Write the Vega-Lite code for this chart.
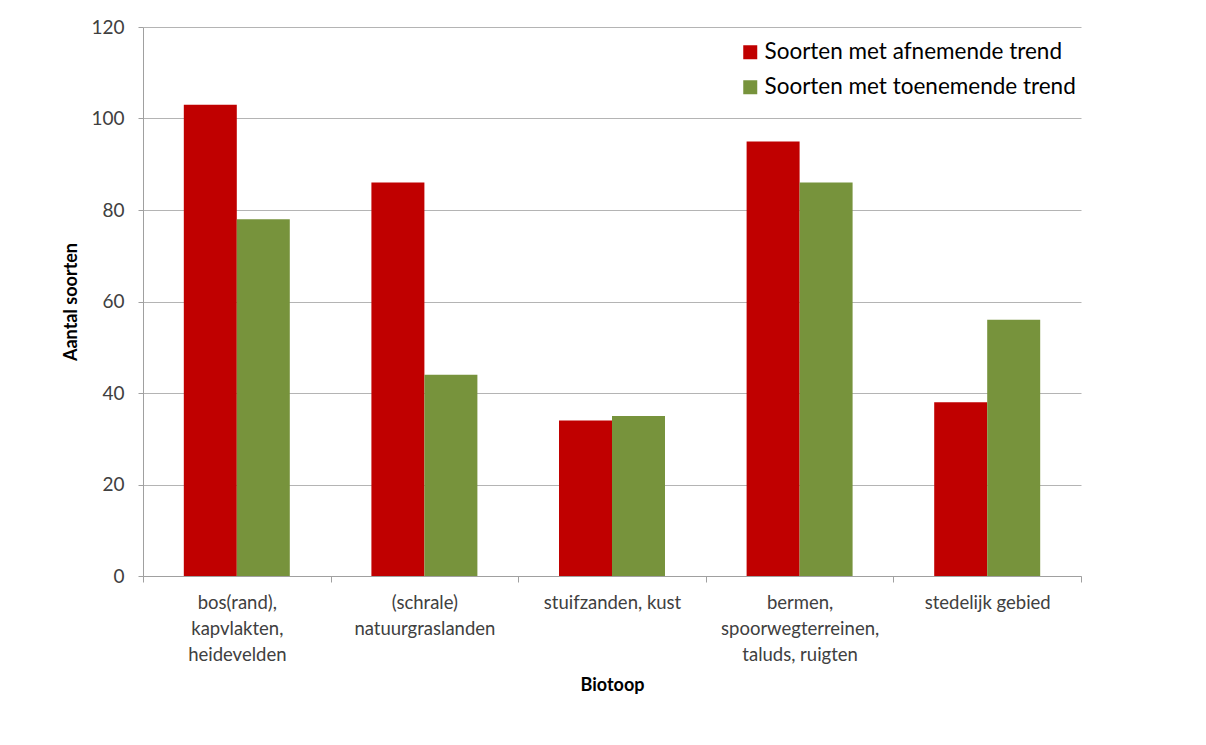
{
  "$schema": "https://vega.github.io/schema/vega-lite/v6.json",
  "autosize": "none",
  "width": 938,
  "height": 549,
  "padding": {"left": 143, "top": 27, "right": 125, "bottom": 169},
  "background": "white",
  "config": {
    "view": {"stroke": null},
    "font": "Lato",
    "axis": {"labelFont": "Lato", "titleFont": "Lato"},
    "legend": {"labelFont": "Lato"}
  },
  "data": {
    "values": [
      {"biotoop": "bos(rand),|kapvlakten,|heidevelden", "trend": "Soorten met afnemende trend", "aantal": 103},
      {"biotoop": "bos(rand),|kapvlakten,|heidevelden", "trend": "Soorten met toenemende trend", "aantal": 78},
      {"biotoop": "(schrale)|natuurgraslanden", "trend": "Soorten met afnemende trend", "aantal": 86},
      {"biotoop": "(schrale)|natuurgraslanden", "trend": "Soorten met toenemende trend", "aantal": 44},
      {"biotoop": "stuifzanden, kust", "trend": "Soorten met afnemende trend", "aantal": 34},
      {"biotoop": "stuifzanden, kust", "trend": "Soorten met toenemende trend", "aantal": 35},
      {"biotoop": "bermen,|spoorwegterreinen,|taluds, ruigten", "trend": "Soorten met afnemende trend", "aantal": 95},
      {"biotoop": "bermen,|spoorwegterreinen,|taluds, ruigten", "trend": "Soorten met toenemende trend", "aantal": 86},
      {"biotoop": "stedelijk gebied", "trend": "Soorten met afnemende trend", "aantal": 38},
      {"biotoop": "stedelijk gebied", "trend": "Soorten met toenemende trend", "aantal": 56}
    ]
  },
  "mark": {"type": "bar"},
  "encoding": {
    "x": {
      "field": "biotoop",
      "type": "nominal",
      "sort": null,
      "scale": {"paddingInner": 0, "paddingOuter": 0},
      "axis": {
        "title": "Biotoop",
        "titleFontSize": 18,
        "titleFontWeight": "bold",
        "titleColor": "#000000",
        "titlePadding": 13,
        "labelAngle": 0,
        "labelExpr": "split(datum.label, '|')",
        "labelFontSize": 18.5,
        "labelColor": "#404040",
        "labelLineHeight": 26,
        "labelPadding": 11,
        "labelBaseline": "top",
        "labelLimit": 0,
        "tickBand": "extent",
        "tickSize": 6,
        "tickColor": "#a0a0a0",
        "domainColor": "#a0a0a0",
        "grid": false
      }
    },
    "xOffset": {
      "field": "trend",
      "type": "nominal",
      "scale": {"paddingInner": 0, "paddingOuter": 0.77}
    },
    "y": {
      "field": "aantal",
      "type": "quantitative",
      "scale": {"domain": [0, 120], "nice": false},
      "axis": {
        "title": "Aantal soorten",
        "titleFontSize": 18,
        "titleFontWeight": "bold",
        "titleColor": "#000000",
        "titlePadding": 10,
        "values": [0, 20, 40, 60, 80, 100, 120],
        "labelFontSize": 19,
        "labelColor": "#404040",
        "labelPadding": 14,
        "tickSize": 5,
        "tickColor": "#a0a0a0",
        "domainColor": "#a0a0a0",
        "gridColor": "#b4b4b4",
        "grid": true
      }
    },
    "color": {
      "field": "trend",
      "type": "nominal",
      "scale": {
        "domain": ["Soorten met afnemende trend", "Soorten met toenemende trend"],
        "range": ["#C00000", "#77933C"]
      },
      "legend": {
        "title": null,
        "orient": "none",
        "legendX": 596,
        "legendY": 14,
        "symbolType": "square",
        "symbolSize": 196,
        "symbolStrokeWidth": 0,
        "labelFontSize": 22.5,
        "labelColor": "#000000",
        "labelOffset": 3,
        "labelLimit": 0,
        "rowPadding": 12
      }
    }
  }
}
